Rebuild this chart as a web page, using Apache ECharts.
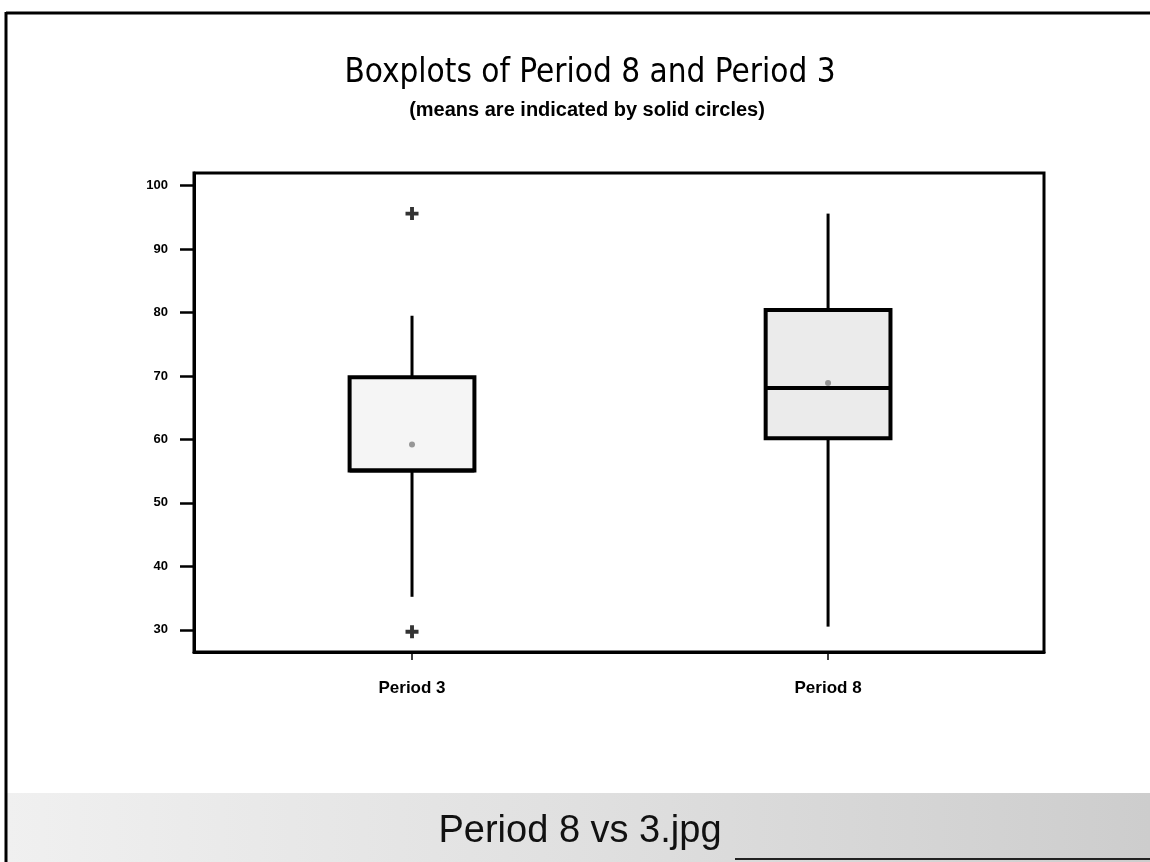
<!DOCTYPE html>
<html>
<head>
<meta charset="utf-8">
<script src="https://cdn.jsdelivr.net/npm/echarts@6/dist/echarts.min.js"></script>
<style>
html,body{margin:0;padding:0;background:#fff;}
#chart{width:1150px;height:862px;}
</style>
</head>
<body>
<div id="chart"></div>
<script>
// ---- data ----
const categories = ['Period 3', 'Period 8'];
// [lower whisker, Q1, median, Q3, upper whisker]
const boxPeriod3 = [35.2, 55.1, 55.1, 69.8, 79.5];
const boxPeriod8 = [30.5, 60.2, 68.1, 80.4, 95.6];
const means = [59.2, 68.9];
const outliersPeriod3 = [95.6, 29.7];
const outliersPeriod8 = [];
const yTicks = [30, 40, 50, 60, 70, 80, 90, 100];
const titleText = 'Boxplots of Period 8 and Period 3';
const subtitleText = '(means are indicated by solid circles)';
const captionText = 'Period 8 vs 3.jpg';

const boxes = [boxPeriod3, boxPeriod8];
const boxData = boxes.map((b, i) => [i + 1].concat(b));
const meanData = means.map((m, i) => [i + 1, m]);
const outlierData = [];
[outliersPeriod3, outliersPeriod8].forEach((arr, i) => arr.forEach(v => outlierData.push([i + 1, v])));
const boxFills = ['#f5f5f5', '#ebebeb'];

const chart = echarts.init(document.getElementById('chart'), null, {renderer: 'canvas'});

const option = {
  backgroundColor: '#ffffff',
  animation: false,
  grid: {
    left: 194, right: 106, top: 173, bottom: 210,
    show: true, borderColor: '#000', borderWidth: 3, backgroundColor: 'transparent'
  },
  xAxis: {
    type: 'value', min: 0.476, max: 2.519,
    axisLine: {show: true, lineStyle: {color: '#000', width: 3}},
    axisTick: {show: true, length: 8, customValues: [1, 2], lineStyle: {color: '#000', width: 1.5}},
    axisLabel: {
      customValues: [1, 2], margin: 28, color: '#000',
      fontFamily: 'Liberation Sans', fontWeight: 'bold', fontSize: 17,
      formatter: v => categories[Math.round(v) - 1] || ''
    },
    splitLine: {show: false}
  },
  yAxis: {
    type: 'value', min: 26.5, max: 102,
    axisLine: {show: true, lineStyle: {color: '#000', width: 3}},
    axisTick: {show: true, length: 14, customValues: yTicks, lineStyle: {color: '#000', width: 2.5}},
    axisLabel: {
      customValues: yTicks, margin: 26, color: '#000',
      fontFamily: 'Liberation Sans', fontWeight: 'bold', fontSize: 13
    },
    splitLine: {show: false}
  },
  graphic: [
    {type: 'rect', z: -10, shape: {x: 6, y: 793, width: 1144, height: 69},
      style: {fill: new echarts.graphic.LinearGradient(0, 0, 1, 0, [
        {offset: 0, color: '#f0f0f0'}, {offset: 0.5, color: '#e0e0e0'}, {offset: 1, color: '#cdcdcd'}])}},
    {type: 'line', shape: {x1: 6, y1: 13, x2: 1150, y2: 13}, style: {stroke: '#000', lineWidth: 3}},
    {type: 'line', shape: {x1: 6, y1: 12, x2: 6, y2: 862}, style: {stroke: '#000', lineWidth: 3}},
    {type: 'line', shape: {x1: 735, y1: 859, x2: 1150, y2: 859}, style: {stroke: '#222', lineWidth: 2}},
    {type: 'text', x: 590, y: 73, style: {text: titleText, fill: '#000', align: 'center', verticalAlign: 'middle',
      font: '33px "DejaVu Sans Condensed", "Liberation Sans Narrow", "Liberation Sans"'}},
    {type: 'text', x: 587, y: 110, style: {text: subtitleText, fill: '#000', align: 'center', verticalAlign: 'middle',
      font: 'bold 20px "Liberation Sans"'}},
    {type: 'text', x: 580, y: 832, style: {text: captionText, fill: '#111', align: 'center', verticalAlign: 'middle',
      font: '38px "Liberation Sans"'}}
  ],
  series: [
    {
      type: 'custom',
      data: boxData,
      encode: {x: 0, y: [1, 2, 3, 4, 5]},
      renderItem: function (params, api) {
        const x = api.value(0);
        const lo = api.coord([x, api.value(1)]);
        const q1 = api.coord([x, api.value(2)]);
        const med = api.coord([x, api.value(3)]);
        const q3 = api.coord([x, api.value(4)]);
        const hi = api.coord([x, api.value(5)]);
        const hw = api.size([0.3, 0])[0] / 2;
        const cx = q1[0];
        return {
          type: 'group',
          children: [
            {type: 'line', shape: {x1: cx, y1: q3[1], x2: cx, y2: hi[1]}, style: {stroke: '#000', lineWidth: 3}},
            {type: 'line', shape: {x1: cx, y1: q1[1], x2: cx, y2: lo[1]}, style: {stroke: '#000', lineWidth: 3}},
            {type: 'rect', shape: {x: cx - hw, y: q3[1], width: hw * 2, height: q1[1] - q3[1]},
              style: {fill: boxFills[params.dataIndex], stroke: '#000', lineWidth: 4}},
            {type: 'line', shape: {x1: cx - hw, y1: med[1], x2: cx + hw, y2: med[1]}, style: {stroke: '#000', lineWidth: 4}}
          ]
        };
      }
    },
    {
      type: 'scatter', data: meanData, symbol: 'circle', symbolSize: 6,
      itemStyle: {color: '#808080'}, z: 5
    },
    {
      type: 'scatter', data: outlierData,
      symbol: 'path://M3.5,0H6.5V3.5H10V6.5H6.5V10H3.5V6.5H0V3.5H3.5Z', symbolSize: 13,
      itemStyle: {color: '#000'}, z: 5
    }
  ]
};
chart.setOption(option);
</script>
</body>
</html>
